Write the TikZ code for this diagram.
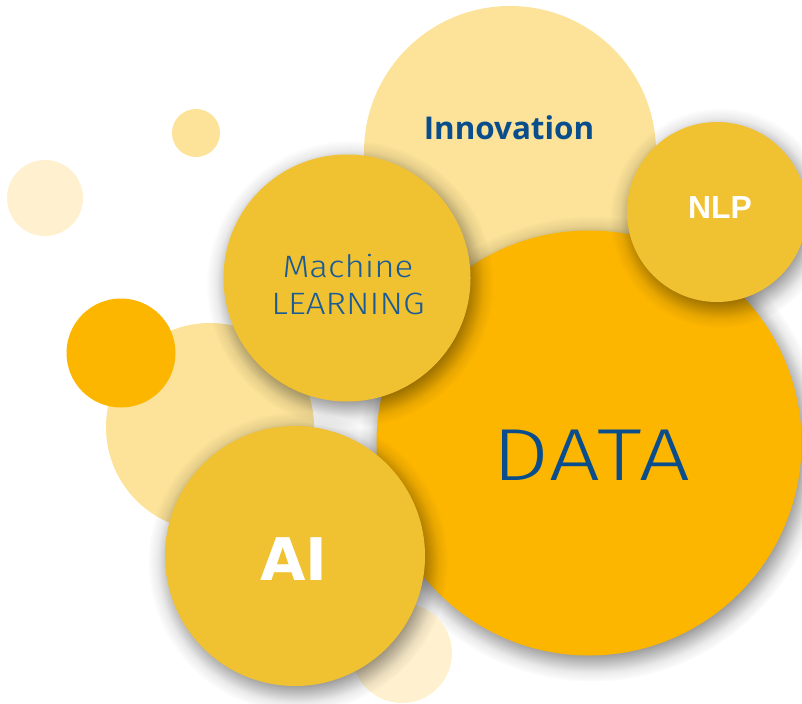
\documentclass[tikz,border=0pt]{standalone}
\usepackage{fontspec}
\usetikzlibrary{fadings}
\newfontfamily\boldfont{Open Sans}
\newfontfamily\lightfont[FakeStretch=1.13]{Fira Sans Light}
\newfontfamily\datafont[FakeStretch=1.22,LetterSpace=2]{Fira Sans Light}
\newfontfamily\nlpfont{Liberation Sans}
\newfontfamily\aifont{DejaVu Sans}
\definecolor{ylw}{HTML}{F0C232}
\definecolor{org}{HTML}{FDB600}
\definecolor{lgt}{HTML}{FCE399}
\definecolor{pal}{HTML}{FFF1CF}
\definecolor{blu}{HTML}{0A4D8C}
\definecolor{blu2}{HTML}{1A5A96}
\newcommand\mkfade[5]{%
  \pgfdeclareradialshading{#1sh}{\pgfpointorigin}{gray(0bp)=(1); gray(#2bp)=(1); gray(#3bp)=(0.84); gray(#4bp)=(0.5); gray(#5bp)=(0.16); gray(25bp)=(0); gray(50bp)=(0)}%
  \pgfdeclarefading{#1}{\pgfuseshading{#1sh}}}
\mkfade{fdata}{20.7}{21.78}{22.85}{23.93}
\mkfade{fml}{18.05}{19.8}{21.53}{23.25}
\mkfade{fnlp}{15.9}{18.18}{20.45}{22.73}
\mkfade{fai}{18.35}{20.02}{21.68}{23.34}
\tikzset{
  bub/.style={circle, inner sep=0pt, outer sep=0pt, draw=none},
  shd/.style={fill=black, opacity=0.5, path fading=#1},
  txt/.style={anchor=base, inner sep=0pt, text=blu},
}
\begin{document}
\begin{tikzpicture}[x=1bp, y=-1bp]
\useasboundingbox (0,0) rectangle (802,704);
\coordinate (cdata) at (589,443);
\coordinate (cml) at (347,278);
\coordinate (cnlp) at (717,212);
\coordinate (cai) at (295,556);
% background bubbles
\node[bub, fill=pal, minimum size=76bp] (p1) at (45,198) {};
\node[bub, fill=lgt, minimum size=48bp] (p2) at (196,133) {};
\node[bub, fill=lgt, minimum size=292bp] (inno) at (510,152) {};
\node[bub, fill=lgt, minimum size=208bp] (p3) at (210,427) {};
\node[bub, fill=org, minimum size=109bp] (p4) at (121,353) {};
% main bubbles with soft shadows
\fill[shd=fdata] ([xshift=3bp,yshift=-6bp]cdata) circle[radius=232.5bp];
\node[bub, fill=org, minimum size=425bp] (data) at (cdata) {};
\fill[shd=fml] ([xshift=3bp,yshift=-6bp]cml) circle[radius=143.5bp];
\node[bub, fill=ylw, minimum size=247bp] (ml) at (cml) {};
\fill[shd=fnlp] ([xshift=3bp,yshift=-6bp]cnlp) circle[radius=110bp];
\node[bub, fill=ylw, minimum size=180bp] (nlp) at (cnlp) {};
\node[bub, fill=pal, minimum size=100bp] (p5) at (402,653) {};
\fill[shd=fai] ([xshift=3bp,yshift=-6bp]cai) circle[radius=150bp];
\node[bub, fill=ylw, minimum size=260bp] (ai) at (cai) {};
% texts
\node[txt, font=\boldfont\bfseries\fontsize{31.5}{36}\selectfont] (tinno) at (509,140) {Innovation};
\node[txt, text=white, font=\nlpfont\bfseries\fontsize{32}{36}\selectfont] (tnlp) at (720,218) {NLP};
\node[txt, text=blu2, font=\lightfont\fontsize{31}{36}\selectfont] (tml1) at (348,277) {Machine};
\node[txt, text=blu2, font=\lightfont\fontsize{31}{36}\selectfont] (tml2) at (348,314) {LEARNING};
\node[txt, font=\datafont\fontsize{74}{80}\selectfont] (tdata) at (591,480) {DATA};
\node[txt, text=white, font=\aifont\bfseries\fontsize{59}{64}\selectfont] (tai) at (294,580) {AI};
\end{tikzpicture}
\end{document}
